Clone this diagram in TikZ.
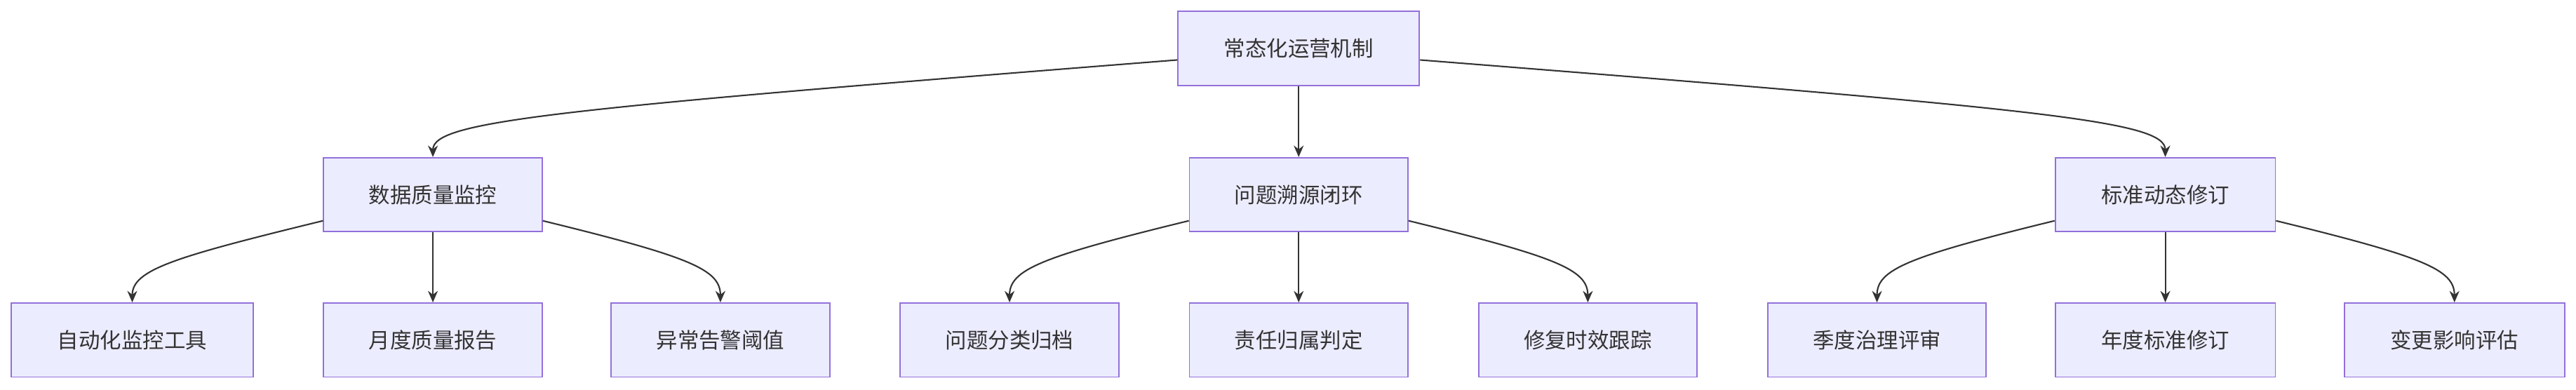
\documentclass[tikz,border=0pt]{standalone}
\usepackage{fontspec}
\setmainfont{Noto Sans CJK SC}
\usetikzlibrary{arrows.meta,calc}
\definecolor{nfill}{HTML}{ECECFF}
\definecolor{nborder}{HTML}{9370DB}
\definecolor{edge}{HTML}{333333}
\begin{document}
\begin{tikzpicture}[x=1pt,y=-1pt,
  box/.style={draw=nborder,fill=nfill,line width=0.8pt,minimum height=45pt,inner sep=0pt,font=\fontsize{13}{15}\selectfont,text=edge},
  w/.style={minimum width=#1},
  ar/.style={draw=edge,line width=0.9pt,-{Stealth[length=7pt,width=6pt]}}]
\useasboundingbox (0,0) rectangle (1568,237);
\node[box,w=147] (r) at (790.5,29.5) {常态化运营机制};
\node[box,w=133] (a) at (263.5,118.5) {数据质量监控};
\node[box,w=133] (b) at (790.5,118.5) {问题溯源闭环};
\node[box,w=134] (c) at (1318,118.5) {标准动态修订};
\node[box,w=147] (a1) at (80.5,207) {自动化监控工具};
\node[box,w=133] (a2) at (263.5,207) {月度质量报告};
\node[box,w=133] (a3) at (438.5,207) {异常告警阈值};
\node[box,w=133] (b1) at (614.5,207) {问题分类归档};
\node[box,w=133] (b2) at (790.5,207) {责任归属判定};
\node[box,w=133] (b3) at (966.5,207) {修复时效跟踪};
\node[box,w=133] (c1) at (1142.5,207) {季度治理评审};
\node[box,w=134] (c2) at (1318,207) {年度标准修订};
\node[box,w=134] (c3) at (1494,207) {变更影响评估};
\draw[ar] ($(r.west)+(0,7)$) .. controls +(-380,30) and +(0,-22) .. (a.north);
\draw[ar] (r.south) -- (b.north);
\draw[ar] ($(r.east)+(0,7)$) .. controls +(380,30) and +(0,-22) .. (c.north);
\foreach \p/\l/\m/\rr in {a/a1/a2/a3,b/b1/b2/b3,c/c1/c2/c3}{
  \draw[ar] ($(\p.south west)+(0,-7)$) .. controls +(-90,22) and +(0,-20) .. (\l.north);
  \draw[ar] (\p.south) -- (\m.north);
  \draw[ar] ($(\p.south east)+(0,-7)$) .. controls +(90,22) and +(0,-20) .. (\rr.north);
}
\end{tikzpicture}
\end{document}
